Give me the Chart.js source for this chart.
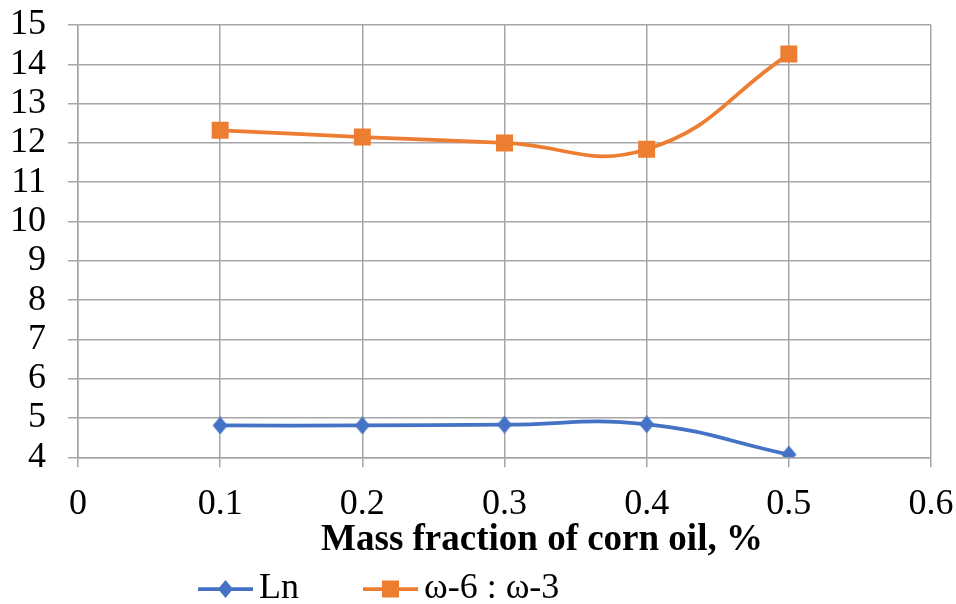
<!DOCTYPE html>
<html>
<head>
<meta charset="utf-8">
<script src="https://cdn.jsdelivr.net/npm/chart.js@4/dist/chart.umd.min.js"></script>
<style>
  html, body { margin: 0; padding: 0; background: #ffffff; }
  #wrap { width: 956px; height: 604px; position: relative; }
</style>
</head>
<body>
<div id="wrap"><canvas id="chart" width="956" height="604"></canvas></div>
<script>
// Mass fraction of corn oil (x) and the two measured series
const massFraction = [0.1, 0.2, 0.3, 0.4, 0.5];
const lnValues = [4.81, 4.81, 4.83, 4.84, 4.07];
const omegaRatio = [12.32, 12.15, 12.00, 11.84, 14.26];
const seriesNames = ['Ln', 'ω-6 : ω-3'];
const axisTitle = 'Mass fraction of corn oil, %';
const xTickRange = [0, 0.6, 0.1];
const yTickRange = [4, 15, 1];

const BLUE = '#4472C4';
const ORANGE = '#ED7D31';
const GRID = '#A6A6A6';
const FONT = "'Liberation Serif', 'Times New Roman', serif";
const LINE_W = 3.75;

// Slightly tall diamond marker for the Ln series
function diamondPath(g, cx, cy, hw, hh) {
  g.beginPath();
  g.moveTo(cx, cy - hh);
  g.lineTo(cx + hw, cy);
  g.lineTo(cx, cy + hh);
  g.lineTo(cx - hw, cy);
  g.closePath();
  g.fill();
}
function diamondMarker(color) {
  const c = document.createElement('canvas');
  c.width = 16; c.height = 18;
  const g = c.getContext('2d');
  g.fillStyle = color;
  diamondPath(g, 8, 9, 7.5, 9);
  return c;
}

// Legend swatch: a short line with the series marker on it, right-aligned
// in a wider transparent canvas so the swatch sits close to its label.
const SWATCH_LINE = 55;
function legendSwatch(color, shape, totalWidth) {
  const c = document.createElement('canvas');
  c.width = totalWidth;
  c.height = 24;
  const g = c.getContext('2d');
  const cy = 12;
  const x1 = totalWidth - SWATCH_LINE, cx = totalWidth - SWATCH_LINE / 2;
  g.strokeStyle = color;
  g.lineWidth = LINE_W;
  g.beginPath();
  g.moveTo(x1, cy);
  g.lineTo(totalWidth, cy);
  g.stroke();
  g.fillStyle = color;
  if (shape === 'diamond') {
    diamondPath(g, cx, cy, 7.5, 9);
  } else {
    g.fillRect(cx - 8.5, cy - 8.5, 17, 17);
  }
  return c;
}

const LEGEND_BOX = 107;
const SWATCH_W = LEGEND_BOX + 24;
const swatches = [
  legendSwatch(BLUE, 'diamond', SWATCH_W),
  legendSwatch(ORANGE, 'square', SWATCH_W)
];

// Places the legend row and the bottom title after layout
const blockOffsets = {
  id: 'blockOffsets',
  afterUpdate(chart, args, opts) {
    const lg = chart.legend;
    if (lg && lg.legendHitBoxes && lg.legendHitBoxes.length) {
      const hb = lg.legendHitBoxes[0];
      const visibleStart = hb.left + LEGEND_BOX / 2 + SWATCH_W / 2 - SWATCH_LINE;
      const dx = opts.legendStart - visibleStart;
      lg.left += dx; lg.right += dx;
      lg.top += opts.legendDy; lg.bottom += opts.legendDy;
    }
    const tb = chart.titleBlock;
    if (tb) {
      const dx = opts.titleCenter - (tb.left + tb.right) / 2;
      tb.left += dx; tb.right += dx;
      tb.top += opts.titleDy; tb.bottom += opts.titleDy;
    }
  }
};

const toPoints = (ys) => massFraction.map((x, i) => ({ x: x, y: ys[i] }));

new Chart(document.getElementById('chart'), {
  type: 'line',
  data: {
    datasets: [
      {
        label: seriesNames[0],
        data: toPoints(lnValues),
        borderColor: BLUE,
        backgroundColor: BLUE,
        borderWidth: LINE_W,
        tension: 0.45,
        pointStyle: diamondMarker(BLUE),
        pointRadius: 9,
        pointBorderWidth: 0,
        pointBackgroundColor: BLUE,
        fill: false
      },
      {
        label: seriesNames[1],
        data: toPoints(omegaRatio),
        borderColor: ORANGE,
        backgroundColor: ORANGE,
        borderWidth: LINE_W,
        tension: 0.45,
        pointStyle: 'rect',
        pointRadius: 12,
        pointBorderWidth: 0,
        pointBackgroundColor: ORANGE,
        fill: false
      }
    ]
  },
  options: {
    responsive: false,
    animation: false,
    layout: { padding: { left: 0, right: 25, top: 25, bottom: 0 } },
    scales: {
      x: {
        type: 'linear',
        min: xTickRange[0],
        max: xTickRange[1],
        ticks: {
          stepSize: xTickRange[2],
          autoSkip: false,
          color: '#000000',
          padding: 16,
          font: { family: FONT, size: 36 },
          callback: (v) => (Math.round(v * 10) / 10).toString()
        },
        grid: { color: GRID, lineWidth: 1.5, tickLength: 10, tickColor: GRID },
        border: { color: GRID, width: 1.5 },
        afterFit: (s) => { s.height = 60; s.paddingLeft = 0; s.paddingRight = 0; }
      },
      y: {
        type: 'linear',
        min: yTickRange[0],
        max: yTickRange[1],
        ticks: {
          stepSize: yTickRange[2],
          autoSkip: false,
          color: '#000000',
          padding: 22,
          font: { family: FONT, size: 36 }
        },
        grid: { color: GRID, lineWidth: 1.5, tickLength: 10, tickColor: GRID },
        border: { color: GRID, width: 1.5 },
        afterFit: (s) => { s.width = 78; s.paddingTop = 0; s.paddingBottom = 0; }
      }
    },
    plugins: {
      tooltip: { enabled: false },
      title: {
        display: true,
        position: 'bottom',
        weight: 500,
        text: axisTitle,
        color: '#000000',
        font: { family: FONT, size: 37, weight: 'bold', lineHeight: 1.1 },
        padding: { top: 0, bottom: 0 }
      },
      legend: {
        position: 'bottom',
        labels: {
          usePointStyle: true,
          pointStyleWidth: LEGEND_BOX,
          boxHeight: 24,
          padding: 0,
          color: '#000000',
          font: { family: FONT, size: 36 },
          generateLabels(chart) {
            const items = Chart.defaults.plugins.legend.labels.generateLabels(chart);
            items.forEach((it, i) => { it.pointStyle = swatches[i]; });
            return items;
          }
        }
      },
      blockOffsets: { legendStart: 198, legendDy: 13, titleCenter: 542, titleDy: 3 }
    }
  },
  plugins: [blockOffsets]
});
</script>
</body>
</html>
